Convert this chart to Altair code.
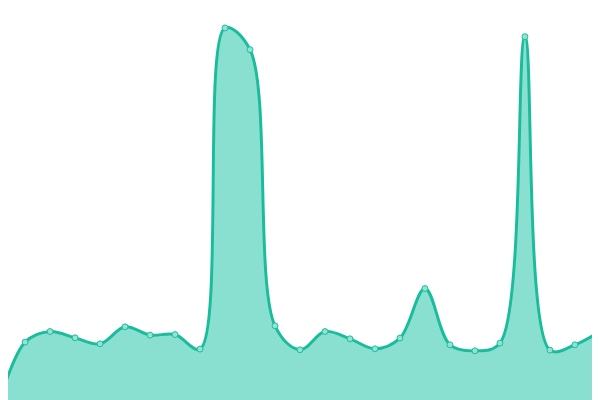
import altair as alt
import pandas as pd

idx = list(range(25))
values = [2, 58.7, 69.3, 63, 57, 74, 65.7, 66.3, 51.7, 373, 351.3, 75, 51, 69.3, 62,
          52, 62.7, 112.3, 56, 50, 57.7, 364.3, 50.7, 56, 69.3]

df = pd.DataFrame({"i": idx, "v": values})

LINE = "#1abc9c"
FILL = "#8ae0d0"

x = alt.X("i:Q", axis=None, scale=alt.Scale(domain=[0.31579, 23.6842], nice=False, zero=False))
y = alt.Y("v:Q", axis=None, scale=alt.Scale(domain=[-24.37, 390.1], nice=False, zero=False))

base = alt.Chart(df)
area = base.mark_area(interpolate="catmull-rom", color=FILL, opacity=1).encode(
    x=x, y=y, y2=alt.Y2(datum=-24.37))
line = base.mark_line(interpolate="catmull-rom", color=LINE, strokeWidth=3).encode(x=x, y=y)
pts = base.mark_point(filled=True, shape="circle", size=36, fill="#92e3d4", stroke=LINE,
                      strokeWidth=1, opacity=1, fillOpacity=1).encode(x=x, y=y)

chart = alt.layer(area, line, pts).properties(
    width=592, height=420, padding=0, autosize=alt.AutoSizeParams(type="none"),
    background="white"
).configure_view(stroke=None)

chart.save("out.html", embed_options={"renderer": "svg", "actions": False})
